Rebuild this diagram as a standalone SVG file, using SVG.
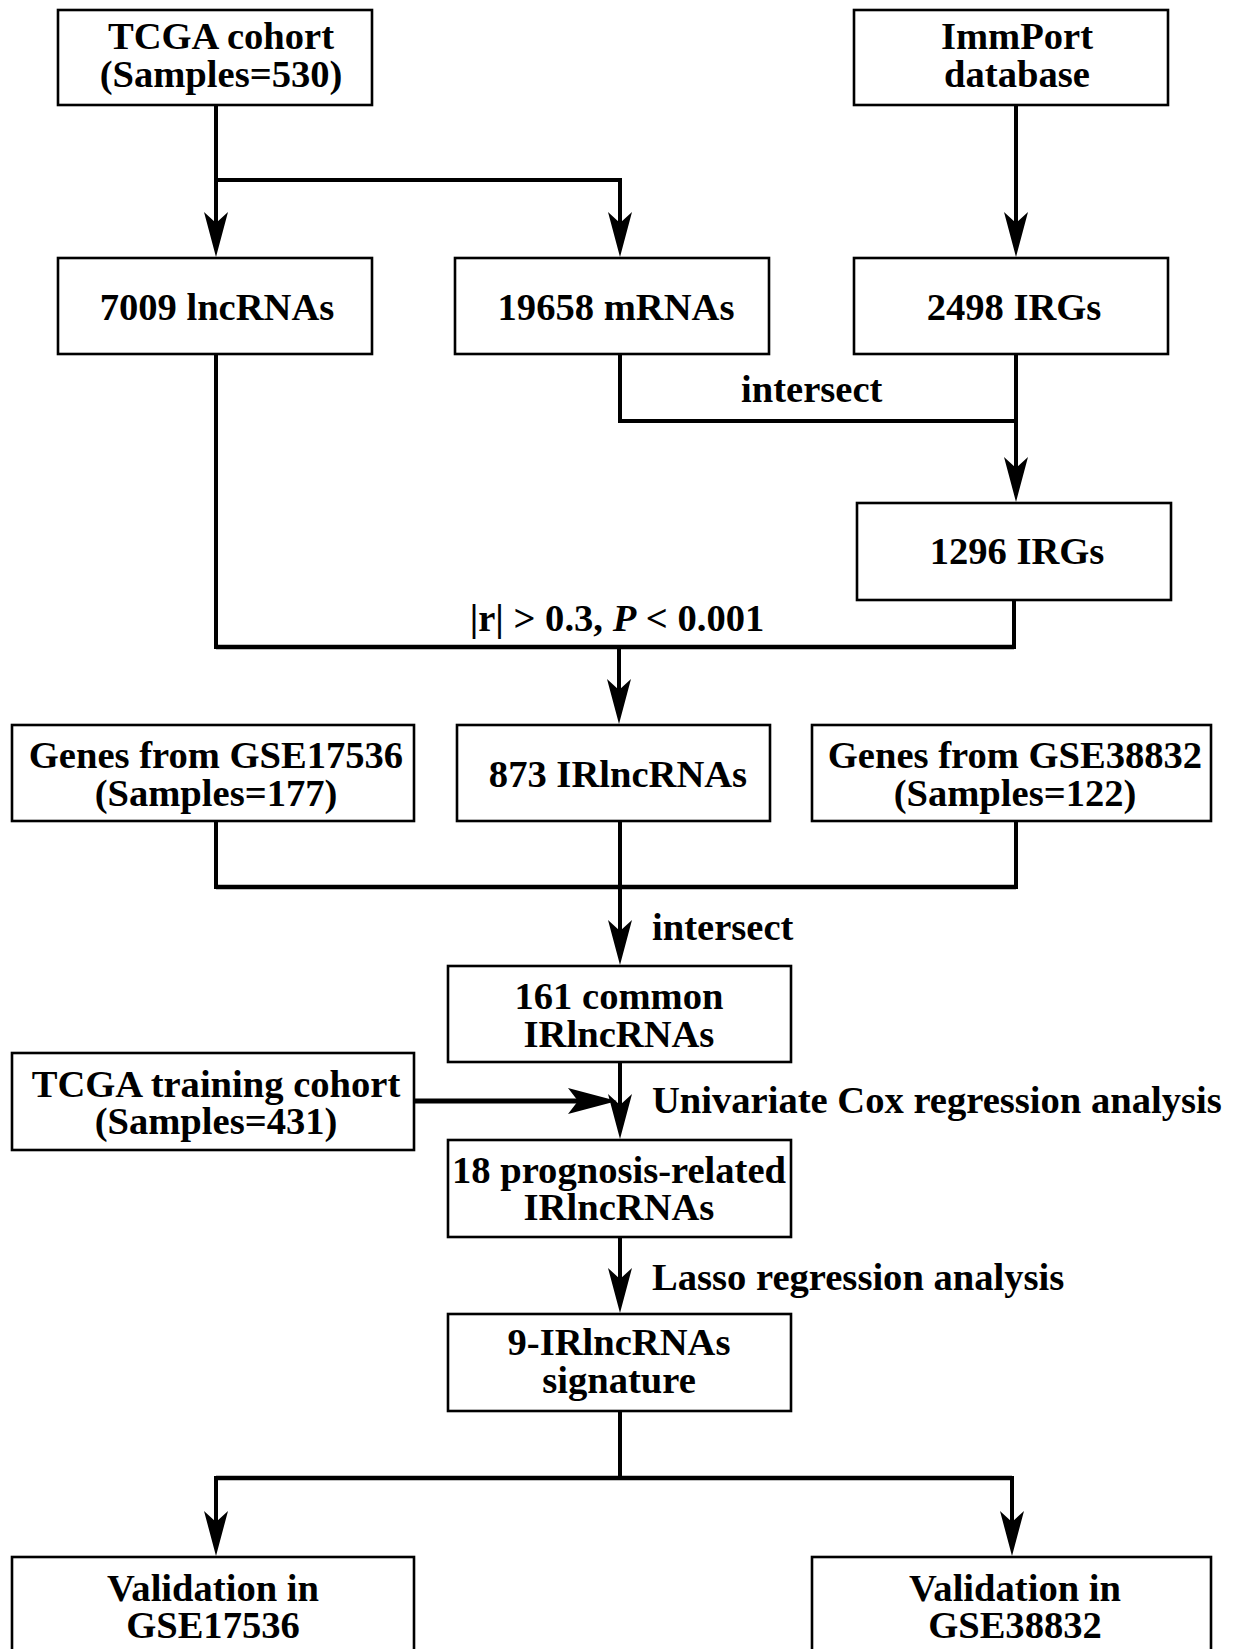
<svg xmlns="http://www.w3.org/2000/svg" width="1240" height="1649" viewBox="0 0 1240 1649">
<defs>
<style>
.box{fill:#fff;stroke:#000;stroke-width:2.6}
.t{font-family:"Liberation Serif","Times New Roman",serif;font-weight:bold;font-size:38.6px;fill:#000;text-anchor:middle}
.l{font-family:"Liberation Serif","Times New Roman",serif;font-weight:bold;font-size:38.6px;fill:#000}
.c{fill:none;stroke:#000;stroke-width:4}
.ch{fill:none;stroke:#000;stroke-width:4.6}
</style>
<marker id="ah" markerUnits="userSpaceOnUse" viewBox="0 0 45 24" refX="25" refY="12" markerWidth="45" markerHeight="24" orient="auto">
<path d="M0,0 L45,12 L0,24 L11,12 Z" fill="#000"/>
</marker>
<marker id="ahb" markerUnits="userSpaceOnUse" viewBox="0 0 49 26" refX="25" refY="13" markerWidth="49" markerHeight="26" orient="auto">
<path d="M0,0 L49,13 L0,26 L10,13 Z" fill="#000"/>
</marker>
</defs>
<rect width="1240" height="1649" fill="#fff"/>
<g id="connectors">
<path class="c" d="M216,105 V237" marker-end="url(#ah)"/>
<path class="c" d="M218,180 H620 V237" marker-end="url(#ah)"/>
<path class="c" d="M1016,105 V237" marker-end="url(#ah)"/>
<path class="c" d="M620,354 V421 H1016"/>
<path class="c" d="M1016,354 V482" marker-end="url(#ah)"/>
<path class="c" d="M216,354 V647 H1014 V600"/>
<path class="ch" d="M216,647 H1014"/>
<path class="c" d="M619,647 V704" marker-end="url(#ah)"/>
<path class="c" d="M216,821 V887 H1016 V821"/>
<path class="ch" d="M216,887 H1016"/>
<path class="c" d="M620,821 V945" marker-end="url(#ah)"/>
<path class="c" d="M620,1062 V1119" marker-end="url(#ah)"/>
<path d="M414,1101 H593" fill="none" stroke="#000" stroke-width="5" marker-end="url(#ahb)"/>
<path class="c" d="M620,1237 V1293" marker-end="url(#ah)"/>
<path class="c" d="M620,1411 V1478"/>
<path class="ch" d="M216,1478 H1012"/>
<path class="c" d="M216,1476 V1536" marker-end="url(#ah)"/>
<path class="c" d="M1012,1476 V1536" marker-end="url(#ah)"/>
</g>
<g id="labels">
<text class="l" x="741" y="402">intersect</text>
<text class="t" x="617" y="631">|r| &gt; 0.3, <tspan font-style="italic">P</tspan> &lt; 0.001</text>
<text class="l" x="652" y="940">intersect</text>
<text class="l" x="652" y="1113">Univariate Cox regression analysis</text>
<text class="l" x="652" y="1290">Lasso regression analysis</text>
</g>
<g id="n-tcga"><rect class="box" x="58" y="10" width="314" height="95"/><text class="t" x="221" y="49">TCGA cohort</text><text class="t" x="221" y="87">(Samples=530)</text></g>
<g id="n-immport"><rect class="box" x="854" y="10" width="314" height="95"/><text class="t" x="1017" y="49">ImmPort</text><text class="t" x="1017" y="87">database</text></g>
<g id="n-lnc"><rect class="box" x="58" y="258" width="314" height="96"/><text class="t" x="217" y="320">7009 lncRNAs</text></g>
<g id="n-mrna"><rect class="box" x="455" y="258" width="314" height="96"/><text class="t" x="616" y="320">19658 mRNAs</text></g>
<g id="n-irg"><rect class="box" x="854" y="258" width="314" height="96"/><text class="t" x="1014" y="320">2498 IRGs</text></g>
<g id="n-irg1296"><rect class="box" x="857" y="503" width="314" height="97"/><text class="t" x="1017" y="564">1296 IRGs</text></g>
<g id="n-gse17536"><rect class="box" x="12" y="725" width="402" height="96"/><text class="t" x="216" y="768">Genes from GSE17536</text><text class="t" x="216" y="806">(Samples=177)</text></g>
<g id="n-irlnc"><rect class="box" x="457" y="725" width="313" height="96"/><text class="t" x="618" y="787">873 IRlncRNAs</text></g>
<g id="n-gse38832"><rect class="box" x="812" y="725" width="399" height="96"/><text class="t" x="1015" y="768">Genes from GSE38832</text><text class="t" x="1015" y="806">(Samples=122)</text></g>
<g id="n-common"><rect class="box" x="448" y="966" width="343" height="96"/><text class="t" x="619" y="1009">161 common</text><text class="t" x="619" y="1047">IRlncRNAs</text></g>
<g id="n-training"><rect class="box" x="12" y="1053" width="402" height="97"/><text class="t" x="216" y="1097">TCGA training cohort</text><text class="t" x="216" y="1134">(Samples=431)</text></g>
<g id="n-prog"><rect class="box" x="448" y="1140" width="343" height="97"/><text class="t" x="619" y="1183">18 prognosis-related</text><text class="t" x="619" y="1220">IRlncRNAs</text></g>
<g id="n-sig"><rect class="box" x="448" y="1314" width="343" height="97"/><text class="t" x="619" y="1355">9-IRlncRNAs</text><text class="t" x="619" y="1393">signature</text></g>
<g id="n-val1"><rect class="box" x="12" y="1557" width="402" height="110"/><text class="t" x="213" y="1601">Validation in</text><text class="t" x="213" y="1638">GSE17536</text></g>
<g id="n-val2"><rect class="box" x="812" y="1557" width="399" height="110"/><text class="t" x="1015" y="1601">Validation in</text><text class="t" x="1015" y="1638">GSE38832</text></g>
</svg>
